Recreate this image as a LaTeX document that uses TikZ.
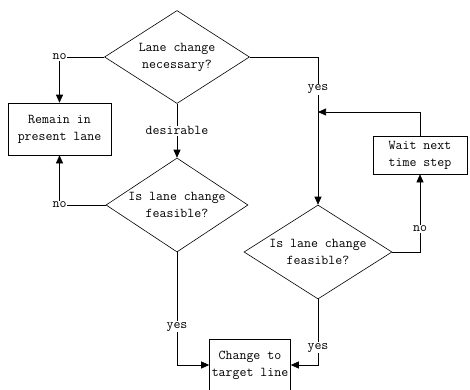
\documentclass[tikz,border=0pt]{standalone}
\usetikzlibrary{arrows.meta}
\usetikzlibrary{shapes.geometric}
\begin{document}
\begin{tikzpicture}[x=1pt,y=-1pt,>={Triangle[length=8pt,width=7pt]},
	font=\ttfamily\fontsize{13.5}{17}\selectfont,line width=0.6pt,
	decision/.style={draw,diamond,aspect=1.55,inner sep=0pt,align=center},
	action/.style={draw,rectangle,inner sep=2pt,align=center},
	lbl/.style={fill=white,inner sep=1pt}]
		\useasboundingbox (0,0) rectangle (470,389);
		\node[decision,minimum width=145pt,minimum height=93pt] (necessary) at (177,57) {Lane change\\necessary?};
		\node[decision,minimum width=142pt,minimum height=94pt] (feasl) at (177,205) {Is lane change\\feasible?};
		\node[decision,minimum width=148pt,minimum height=94pt] (feasr) at (318,252) {Is lane change\\feasible?};
		\node[action,minimum width=103pt,minimum height=52pt] (remain) at (59.5,129) {Remain in\\present lane};
		\node[action,minimum width=94pt,minimum height=38pt] (wait) at (420,155) {Wait next\\time step};
		\node[action,minimum width=81pt,minimum height=52pt] (target) at (250,365) {Change to\\target line};
		\coordinate (merge) at (318,112);
		\draw[->] (necessary.west) -| node[lbl] {no} (remain.north);
		\draw[->] (necessary.south) -- node[lbl] {desirable} (feasl.north);
		\draw[->] (feasl.west) -| node[lbl] {no} (remain.south);
		\draw[->] (feasl.south) |- node[lbl,pos=0.33] {yes} (target.west);
		\draw[->] (necessary.east) -| node[lbl,pos=0.61] {yes} (feasr.north);
		\draw[->] (feasr.east) -| node[lbl,pos=0.65] {no} (wait.south);
		\draw[->] (feasr.south) |- node[lbl,pos=0.37] {yes} (target.east);
		\draw[->] (wait.north) |- (merge);
\end{tikzpicture}
\end{document}
